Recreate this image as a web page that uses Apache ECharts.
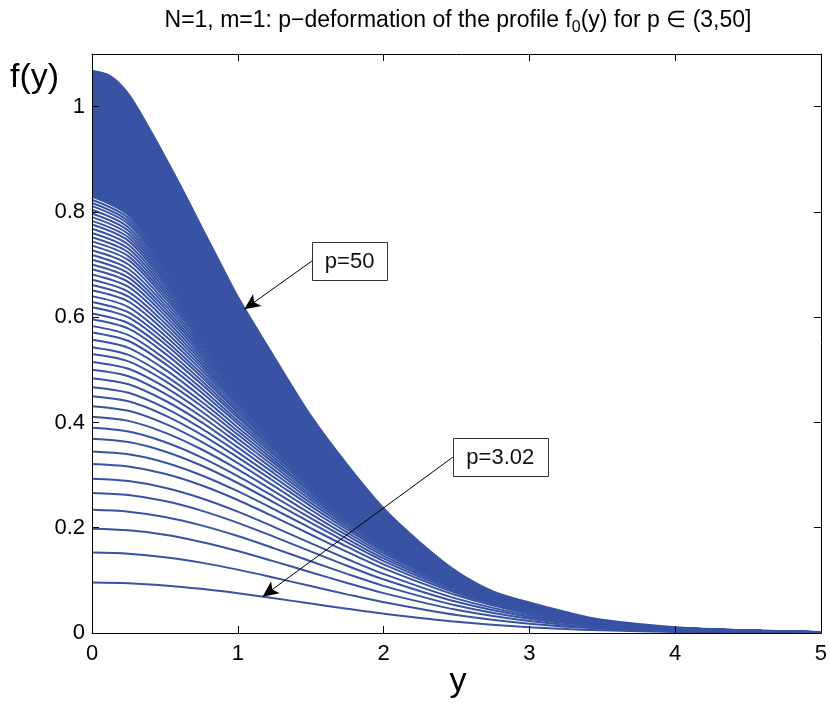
<!DOCTYPE html>
<html><head><meta charset="utf-8">
<script src="https://cdn.jsdelivr.net/npm/echarts@6/dist/echarts.min.js"></script>
<style>html,body{margin:0;padding:0;background:#fff}#c{width:830px;height:703px}</style>
</head><body><div id="c"></div>
<script>
// sample positions along y (horizontal axis)
const yGrid = [0, 0.25, 0.5, 0.75, 1, 1.25, 1.5, 1.75, 2, 2.5, 3, 3.5, 4, 5];
const xTickValues = [0, 1, 2, 3, 4, 5];
const fTickValues = [0, 0.2, 0.4, 0.6, 0.8, 1];

// profiles f(y), from p=3.02 (lowest) upwards to the dense band edge
const profiles = [
[0.096,0.0946,0.0904,0.0839,0.0756,0.066,0.056,0.0461,0.0368,0.0214,0.011,0.0051,0.0021,0.0002],
[0.153,0.1507,0.1441,0.1337,0.1204,0.1051,0.0892,0.0734,0.0586,0.0341,0.0176,0.0081,0.0033,0.0004],
[0.198,0.195,0.1865,0.173,0.1558,0.136,0.1154,0.095,0.0758,0.0442,0.0228,0.0105,0.0043,0.0005],
[0.234,0.2305,0.2204,0.2045,0.1842,0.1608,0.1364,0.1123,0.0896,0.0522,0.0269,0.0124,0.005,0.0006],
[0.266,0.262,0.2506,0.2325,0.2093,0.1827,0.1551,0.1277,0.1019,0.0593,0.0306,0.0141,0.0057,0.0007],
[0.293,0.2886,0.276,0.2561,0.2306,0.2013,0.1708,0.1406,0.1122,0.0653,0.0337,0.0155,0.0063,0.0007],
[0.321,0.3162,0.3024,0.2806,0.2526,0.2205,0.1871,0.1541,0.1229,0.0716,0.0369,0.017,0.0069,0.0008],
[0.345,0.3395,0.324,0.2998,0.2694,0.2349,0.1991,0.1639,0.1304,0.0759,0.039,0.0179,0.0073,0.0009],
[0.369,0.3627,0.3449,0.3182,0.285,0.2478,0.2095,0.172,0.1367,0.079,0.0407,0.0187,0.0076,0.0009],
[0.39,0.3828,0.3629,0.3338,0.2981,0.2587,0.2182,0.1788,0.1418,0.0817,0.042,0.0193,0.0079,0.0009],
[0.411,0.403,0.3808,0.3491,0.3109,0.2692,0.2265,0.1853,0.1467,0.0841,0.0432,0.0199,0.0081,0.001],
[0.431,0.4221,0.3977,0.3635,0.3227,0.2789,0.2342,0.1912,0.1511,0.0863,0.0443,0.0203,0.0083,0.001],
[0.45,0.4402,0.4136,0.377,0.3337,0.2879,0.2412,0.1966,0.155,0.0882,0.0452,0.0207,0.0085,0.0011],
[0.467,0.4564,0.4278,0.3888,0.3433,0.2956,0.2472,0.2011,0.1583,0.0897,0.0459,0.0211,0.0086,0.0011],
[0.484,0.4726,0.4417,0.4005,0.3527,0.3031,0.2529,0.2055,0.1614,0.0911,0.0466,0.0213,0.0088,0.0011],
[0.5,0.4878,0.4549,0.4114,0.3614,0.31,0.2582,0.2094,0.1642,0.0923,0.0472,0.0216,0.0089,0.0012],
[0.515,0.5019,0.467,0.4213,0.3693,0.3163,0.2629,0.2129,0.1666,0.0933,0.0476,0.0218,0.009,0.0012],
[0.53,0.5161,0.4791,0.4312,0.377,0.3223,0.2674,0.2162,0.1689,0.0942,0.048,0.0219,0.009,0.0012],
[0.543,0.5284,0.4895,0.4397,0.3836,0.3275,0.2712,0.219,0.1707,0.095,0.0483,0.022,0.0091,0.0012],
[0.557,0.5416,0.5007,0.4486,0.3906,0.3329,0.2752,0.2219,0.1726,0.0956,0.0486,0.0222,0.0091,0.0013],
[0.571,0.5547,0.5117,0.4575,0.3974,0.338,0.2789,0.2245,0.1744,0.0962,0.0489,0.0223,0.0092,0.0013],
[0.583,0.566,0.5211,0.465,0.4031,0.3424,0.2821,0.2267,0.1758,0.0967,0.049,0.0223,0.0092,0.0013],
[0.596,0.5782,0.5313,0.473,0.4092,0.347,0.2853,0.229,0.1772,0.0971,0.0492,0.0224,0.0092,0.0013],
[0.607,0.5885,0.5399,0.4797,0.4142,0.3508,0.288,0.2308,0.1783,0.0974,0.0493,0.0224,0.0093,0.0013],
[0.619,0.5997,0.5491,0.487,0.4196,0.3547,0.2907,0.2327,0.1795,0.0976,0.0493,0.0224,0.0093,0.0014],
[0.629,0.6091,0.5568,0.493,0.4239,0.358,0.293,0.2342,0.1803,0.0977,0.0494,0.0225,0.0093,0.0014],
[0.64,0.6193,0.5652,0.4995,0.4287,0.3615,0.2954,0.2358,0.1812,0.0979,0.0494,0.0224,0.0093,0.0014],
[0.651,0.6295,0.5735,0.5059,0.4334,0.3649,0.2976,0.2372,0.182,0.098,0.0493,0.0224,0.0093,0.0014],
[0.661,0.6389,0.5811,0.5116,0.4375,0.3679,0.2996,0.2385,0.1827,0.098,0.0493,0.0223,0.0093,0.0015],
[0.671,0.6481,0.5886,0.5173,0.4416,0.3708,0.3015,0.2397,0.1833,0.0979,0.0493,0.0223,0.0093,0.0015],
[0.681,0.6574,0.5961,0.523,0.4456,0.3737,0.3033,0.2408,0.1839,0.0979,0.0492,0.0222,0.0093,0.0014],
[0.691,0.6667,0.6035,0.5286,0.4495,0.3765,0.3051,0.2419,0.1844,0.0977,0.0491,0.0222,0.0093,0.0015],
[0.7,0.675,0.6102,0.5336,0.453,0.3788,0.3066,0.2428,0.1847,0.0976,0.0489,0.0221,0.0092,0.0015],
[0.709,0.6833,0.6168,0.5385,0.4564,0.3812,0.308,0.2436,0.185,0.0973,0.0488,0.022,0.0092,0.0015],
[0.718,0.6916,0.6234,0.5434,0.4597,0.3835,0.3094,0.2443,0.1853,0.0971,0.0486,0.0219,0.0092,0.0015],
[0.727,0.7,0.63,0.5482,0.463,0.3857,0.3107,0.2451,0.1855,0.0969,0.0484,0.0218,0.0092,0.0015],
[0.736,0.7083,0.6366,0.553,0.4663,0.3879,0.3119,0.2457,0.1857,0.0966,0.0482,0.0217,0.0091,0.0015],
[0.744,0.7156,0.6423,0.5573,0.4691,0.3898,0.313,0.2463,0.1858,0.0963,0.048,0.0216,0.0091,0.0016],
[0.752,0.723,0.6481,0.5614,0.4719,0.3916,0.314,0.2467,0.1858,0.096,0.0478,0.0214,0.009,0.0016],
[0.76,0.7303,0.6538,0.5655,0.4746,0.3934,0.3149,0.2472,0.1858,0.0956,0.0475,0.0214,0.009,0.0016],
[0.768,0.7377,0.6596,0.5696,0.4772,0.3951,0.3159,0.2475,0.1859,0.0952,0.0473,0.0212,0.009,0.0016],
[0.776,0.745,0.6653,0.5737,0.4799,0.3968,0.3168,0.2479,0.1858,0.0948,0.047,0.021,0.0089,0.0016],
[0.783,0.7514,0.6702,0.5772,0.4822,0.3982,0.3174,0.2481,0.1857,0.0944,0.0467,0.0209,0.0089,0.0016],
[0.79,0.7578,0.6751,0.5807,0.4843,0.3996,0.3181,0.2484,0.1856,0.094,0.0465,0.0208,0.0088,0.0016],
[0.797,0.7642,0.6801,0.5842,0.4866,0.4009,0.3187,0.2486,0.1854,0.0936,0.0462,0.0206,0.0088,0.0016],
[0.804,0.7706,0.6849,0.5876,0.4887,0.4022,0.3193,0.2488,0.1852,0.0932,0.046,0.0205,0.0088,0.0016],
[0.811,0.777,0.6898,0.591,0.4908,0.4035,0.3199,0.2488,0.185,0.0927,0.0457,0.0204,0.0087,0.0016],
[0.817,0.7824,0.694,0.5939,0.4926,0.4045,0.3203,0.2489,0.1848,0.0922,0.0454,0.0203,0.0087,0.0016],
[0.823,0.7879,0.6981,0.5968,0.4943,0.4056,0.3207,0.249,0.1846,0.0918,0.0452,0.0201,0.0086,0.0016],
[0.829,0.7934,0.7022,0.5994,0.4957,0.4062,0.3208,0.2487,0.184,0.0912,0.0448,0.0199,0.0085,0.0017]
];
// outer edge of the dense band: the p=50 profile, read on a finer grid
const p50Grid = [0, 0.125, 0.25, 0.375, 0.5, 0.625, 0.75, 0.875, 1, 1.25, 1.5, 1.75, 2, 2.25, 2.5, 2.75, 3, 3.25, 3.5, 4, 4.5, 5];
const profileP50 = [1.068, 1.058, 1.024, 0.967, 0.905, 0.840, 0.772, 0.705, 0.639, 0.524, 0.413, 0.320, 0.237, 0.172, 0.117, 0.079, 0.058, 0.040, 0.025, 0.011, 0.005, 0.002];

// annotations: label, tail (box anchor) in data coords, arrow tip in data coords
const annoLabels = ['p=50', 'p=3.02'];
const annoTail = [[1.51, 0.707], [2.475, 0.334]];
const annoTip = [[1.045, 0.615], [1.17, 0.069]];

const BLUE = '#3853a4';
const FONT = '"Liberation Sans", Arial, Helvetica, sans-serif';
const chart = echarts.init(document.getElementById('c'), null, {renderer: 'canvas'});

const pairs = (grid, arr) => grid.map((x, i) => [x, arr[i]]);
const inner = profiles[profiles.length - 1];
const common = {type: 'line', symbol: 'none', smooth: 0.3, silent: true, animation: false,
  xAxisIndex: 0, yAxisIndex: 0};

const series = [];
// dense band: filled under the p=50 profile, then cleared below the innermost band profile
series.push(Object.assign({}, common, {name: 'p50', data: pairs(p50Grid, profileP50),
  lineStyle: {width: 2, color: BLUE}, areaStyle: {color: BLUE, opacity: 1, origin: 'start'}, z: 2}));
series.push(Object.assign({}, common, {name: 'bandMask', data: pairs(yGrid, inner),
  lineStyle: {width: 0, opacity: 0}, areaStyle: {color: '#fff', opacity: 1, origin: 'start'}, z: 2}));
profiles.forEach((p, k) => series.push(Object.assign({}, common, {name: 'c' + k, data: pairs(yGrid, p),
  lineStyle: {width: 2, color: BLUE}, z: 3})));
// arrows
series.push({type: 'line', data: [], silent: true, animation: false, xAxisIndex: 0, yAxisIndex: 0,
  markLine: {silent: true, animation: false, symbol: ['none', 'arrow'], symbolSize: [11, 16],
    lineStyle: {color: '#000', width: 1, type: 'solid'}, label: {show: false},
    data: annoTail.map((t, i) => [{coord: t}, {coord: annoTip[i]}])}, z: 5});

const axisLineStyle = {color: '#000', width: 1};
const tickStyle = {inside: true, length: 7, lineStyle: {color: '#000', width: 1}};
const option = {
  animation: false,
  backgroundColor: '#fff',
  grid: {left: 92, right: 6, top: 54, bottom: 70, containLabel: false},
  xAxis: [
    {type: 'value', min: xTickValues[0], max: xTickValues[xTickValues.length - 1], interval: 1, position: 'bottom', z: 6,
      axisLine: {onZero: false, lineStyle: axisLineStyle}, axisTick: tickStyle, splitLine: {show: false},
      axisLabel: {color: '#000', fontSize: 22, fontFamily: FONT, margin: 10}},
    {type: 'value', min: xTickValues[0], max: xTickValues[xTickValues.length - 1], interval: 1, position: 'top', z: 6,
      axisLine: {onZero: false, lineStyle: axisLineStyle}, axisTick: tickStyle, splitLine: {show: false},
      axisLabel: {show: false}}
  ],
  yAxis: [
    {type: 'value', min: 0, max: 1.1, interval: 0.2, position: 'left', z: 6,
      axisLine: {onZero: false, lineStyle: axisLineStyle}, axisTick: tickStyle, splitLine: {show: false},
      axisLabel: {color: '#000', fontSize: 22, fontFamily: FONT, margin: 7, showMaxLabel: false,
        formatter: v => fTickValues.some(t => Math.abs(t - v) < 1e-9) ? String(+v.toFixed(1)) : ''}},
    {type: 'value', min: 0, max: 1.1, interval: 0.2, position: 'right', z: 6,
      axisLine: {onZero: false, lineStyle: axisLineStyle}, axisTick: tickStyle, splitLine: {show: false},
      axisLabel: {show: false}}
  ],
  series: series
};
chart.setOption(option);

const graphics = [
  {type: 'text', x: 458, y: 21, z: 10, style: {
    text: 'N=1, m=1: p\u2212deformation of the profile f{s|0}(y) for p \u2208 (3,50]',
    font: '23px ' + FONT, fill: '#000', align: 'center', verticalAlign: 'middle',
    rich: {s: {fontSize: 16, fontFamily: FONT, fill: '#000', padding: [13, 0, 0, 0]}}}},
  {type: 'text', x: 10, y: 78, z: 10, style: {text: 'f(y)', font: '34px ' + FONT, fill: '#000', align: 'left', verticalAlign: 'middle'}},
  {type: 'text', x: 458, y: 682, z: 10, style: {text: 'y', font: '34px ' + FONT, fill: '#000', align: 'center', verticalAlign: 'middle'}}
];
const boxW = [75, 95], boxH = 38;
annoLabels.forEach((lab, i) => {
  const p = chart.convertToPixel({xAxisIndex: 0, yAxisIndex: 0}, annoTail[i]);
  graphics.push({type: 'rect', z: 20, shape: {x: Math.round(p[0]) + 0.5, y: Math.round(p[1] - boxH / 2) + 0.5, width: boxW[i], height: boxH},
    style: {fill: '#fff', stroke: '#333', lineWidth: 1}});
  graphics.push({type: 'text', z: 21, x: p[0] + boxW[i] / 2, y: p[1] + 1,
    style: {text: lab, font: '22px ' + FONT, fill: '#111', align: 'center', verticalAlign: 'middle'}});
});
chart.setOption({graphic: graphics});
</script></body></html>
